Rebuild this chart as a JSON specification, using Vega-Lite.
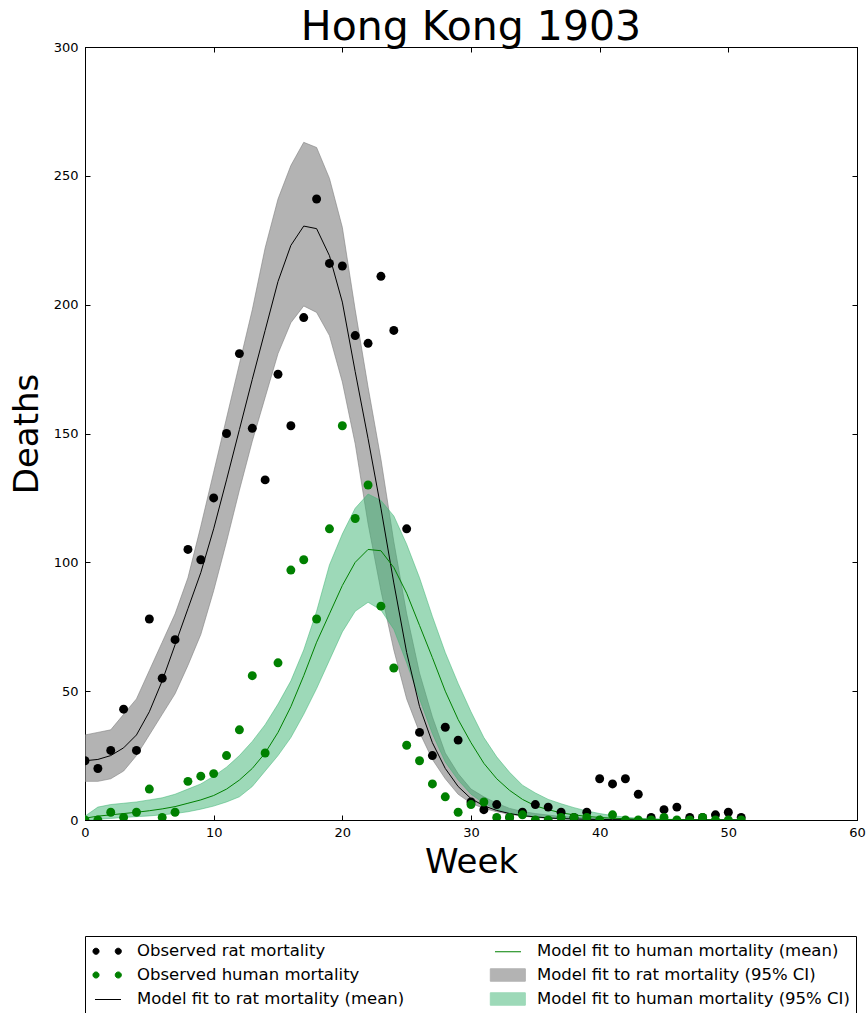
{
  "$schema": "https://vega.github.io/schema/vega-lite/v6.json",
  "width": 772,
  "height": 773,
  "autosize": {"type": "none"},
  "padding": {"left": 85, "top": 47, "right": 11, "bottom": 193},
  "title": {"text": "Hong Kong 1903", "fontSize": 41, "font": "DejaVu Sans", "fontWeight": "normal", "color": "black", "anchor": "middle", "baseline": "alphabetic", "offset": -40},
  "config": {
    "font": "DejaVu Sans",
    "view": {"stroke": "black", "strokeWidth": 1},
    "axis": {"domainColor": "black", "tickColor": "black", "labelColor": "black", "labelFont": "DejaVu Sans", "labelFontSize": 13, "titleFont": "DejaVu Sans", "titleFontSize": 34, "titleFontWeight": "normal", "titleColor": "black", "grid": false, "tickSize": -5, "labelFlush": false, "labelOverlap": false}
  },
  "datasets": {
    "obs": [{"week":0,"rat":23,"human":0},{"week":1,"rat":20,"human":0},{"week":2,"rat":27,"human":3},{"week":3,"rat":43,"human":1},{"week":4,"rat":27,"human":3},{"week":5,"rat":78,"human":12},{"week":6,"rat":55,"human":1},{"week":7,"rat":70,"human":3},{"week":8,"rat":105,"human":15},{"week":9,"rat":101,"human":17},{"week":10,"rat":125,"human":18},{"week":11,"rat":150,"human":25},{"week":12,"rat":181,"human":35},{"week":13,"rat":152,"human":56},{"week":14,"rat":132,"human":26},{"week":15,"rat":173,"human":61},{"week":16,"rat":153,"human":97},{"week":17,"rat":195,"human":101},{"week":18,"rat":241,"human":78},{"week":19,"rat":216,"human":113},{"week":20,"rat":215,"human":153},{"week":21,"rat":188,"human":117},{"week":22,"rat":185,"human":130},{"week":23,"rat":211,"human":83},{"week":24,"rat":190,"human":59},{"week":25,"rat":113,"human":29},{"week":26,"rat":34,"human":23},{"week":27,"rat":25,"human":14},{"week":28,"rat":36,"human":9},{"week":29,"rat":31,"human":3},{"week":30,"rat":7,"human":6},{"week":31,"rat":4,"human":7},{"week":32,"rat":6,"human":1},{"week":33,"rat":1,"human":1},{"week":34,"rat":3,"human":2},{"week":35,"rat":6,"human":0},{"week":36,"rat":5,"human":0},{"week":37,"rat":3,"human":1},{"week":38,"rat":1,"human":1},{"week":39,"rat":3,"human":1},{"week":40,"rat":16,"human":0},{"week":41,"rat":14,"human":2},{"week":42,"rat":16,"human":0},{"week":43,"rat":10,"human":0},{"week":44,"rat":1,"human":0},{"week":45,"rat":4,"human":1},{"week":46,"rat":5,"human":0},{"week":47,"rat":1,"human":0},{"week":48,"rat":1,"human":1},{"week":49,"rat":2,"human":0},{"week":50,"rat":3,"human":0},{"week":51,"rat":1,"human":0}],
    "model": [
      {"week":0,"rm":23,"rl":15,"ru":33,"hm":0.7,"hl":0,"hu":1.5},
      {"week":1,"rm":23.5,"rl":15,"ru":34,"hm":1.5,"hl":0.3,"hu":5},
      {"week":2,"rm":25,"rl":16,"ru":35,"hm":2,"hl":0.6,"hu":6},
      {"week":3,"rm":28,"rl":19,"ru":41,"hm":2.5,"hl":1,"hu":6.5},
      {"week":4,"rm":33,"rl":25,"ru":47,"hm":3,"hl":1.3,"hu":7},
      {"week":5,"rm":42,"rl":33,"ru":58,"hm":3.6,"hl":1.6,"hu":7.8},
      {"week":6,"rm":54,"rl":41,"ru":69,"hm":4.3,"hl":2,"hu":8.6},
      {"week":7,"rm":68,"rl":49,"ru":80,"hm":5.2,"hl":2.5,"hu":10},
      {"week":8,"rm":82,"rl":60,"ru":94,"hm":6.5,"hl":3.2,"hu":12},
      {"week":9,"rm":96,"rl":72,"ru":114,"hm":7.8,"hl":4.2,"hu":14},
      {"week":10,"rm":113,"rl":89,"ru":135,"hm":9.5,"hl":5.4,"hu":17},
      {"week":11,"rm":132,"rl":108,"ru":156,"hm":12,"hl":7,"hu":20.5},
      {"week":12,"rm":151.5,"rl":128,"ru":177,"hm":15.5,"hl":9,"hu":25},
      {"week":13,"rm":171,"rl":147,"ru":198,"hm":20,"hl":13,"hu":30.5},
      {"week":14,"rm":190,"rl":164,"ru":222,"hm":26,"hl":19,"hu":37},
      {"week":15,"rm":209,"rl":181,"ru":241,"hm":34,"hl":25,"hu":45},
      {"week":16,"rm":223,"rl":193,"ru":254,"hm":44,"hl":32,"hu":54},
      {"week":17,"rm":230.5,"rl":199.5,"ru":263,"hm":56,"hl":41,"hu":66},
      {"week":18,"rm":229.5,"rl":197,"ru":261,"hm":69,"hl":51,"hu":81},
      {"week":19,"rm":219,"rl":188,"ru":249,"hm":80,"hl":62,"hu":99},
      {"week":20,"rm":201,"rl":170,"ru":230,"hm":91,"hl":73,"hu":111},
      {"week":21,"rm":174,"rl":146,"ru":198,"hm":100,"hl":81,"hu":121},
      {"week":22,"rm":148,"rl":115,"ru":168,"hm":105,"hl":84.5,"hu":126.5},
      {"week":23,"rm":121,"rl":89,"ru":140,"hm":104.5,"hl":81.5,"hu":124},
      {"week":24,"rm":92,"rl":66,"ru":108,"hm":98,"hl":74,"hu":118},
      {"week":25,"rm":65,"rl":47,"ru":80,"hm":88,"hl":61,"hu":107},
      {"week":26,"rm":44,"rl":34,"ru":57,"hm":75.5,"hl":47,"hu":94},
      {"week":27,"rm":30,"rl":23.5,"ru":40,"hm":63,"hl":33.5,"hu":79},
      {"week":28,"rm":20,"rl":16,"ru":26,"hm":50,"hl":22.5,"hu":65},
      {"week":29,"rm":13,"rl":10,"ru":18,"hm":39,"hl":15.5,"hu":53},
      {"week":30,"rm":8.3,"rl":6.5,"ru":12,"hm":30,"hl":10,"hu":42},
      {"week":31,"rm":5.5,"rl":4.5,"ru":9,"hm":22,"hl":6.5,"hu":32},
      {"week":32,"rm":3.7,"rl":3.2,"ru":6.5,"hm":16,"hl":4,"hu":24.5},
      {"week":33,"rm":2.5,"rl":2.2,"ru":4.5,"hm":11.5,"hl":2.7,"hu":18.5},
      {"week":34,"rm":1.7,"rl":1.5,"ru":3.3,"hm":8,"hl":1.8,"hu":13.5},
      {"week":35,"rm":1.2,"rl":1,"ru":2.5,"hm":5.5,"hl":1.2,"hu":10.5},
      {"week":36,"rm":0.8,"rl":0.6,"ru":1.9,"hm":4,"hl":0.8,"hu":8},
      {"week":37,"rm":0.55,"rl":0.4,"ru":1.4,"hm":2.8,"hl":0.5,"hu":6.3},
      {"week":38,"rm":0.4,"rl":0.25,"ru":1.1,"hm":2,"hl":0.3,"hu":4.8},
      {"week":39,"rm":0.3,"rl":0.15,"ru":0.85,"hm":1.4,"hl":0.2,"hu":3.5},
      {"week":40,"rm":0.2,"rl":0.1,"ru":0.65,"hm":1,"hl":0.1,"hu":2.5},
      {"week":41,"rm":0.15,"rl":0.05,"ru":0.5,"hm":0.7,"hl":0.05,"hu":1.7},
      {"week":42,"rm":0.1,"rl":0.03,"ru":0.4,"hm":0.5,"hl":0.03,"hu":1.1},
      {"week":43,"rm":0.07,"rl":0.02,"ru":0.3,"hm":0.35,"hl":0.02,"hu":0.7},
      {"week":44,"rm":0.05,"rl":0.01,"ru":0.25,"hm":0.25,"hl":0.01,"hu":0.5},
      {"week":45,"rm":0.04,"rl":0,"ru":0.2,"hm":0.18,"hl":0,"hu":0.35},
      {"week":46,"rm":0.03,"rl":0,"ru":0.15,"hm":0.12,"hl":0,"hu":0.25},
      {"week":47,"rm":0.02,"rl":0,"ru":0.12,"hm":0.08,"hl":0,"hu":0.2},
      {"week":48,"rm":0.015,"rl":0,"ru":0.1,"hm":0.06,"hl":0,"hu":0.15},
      {"week":49,"rm":0.01,"rl":0,"ru":0.08,"hm":0.04,"hl":0,"hu":0.1},
      {"week":50,"rm":0.01,"rl":0,"ru":0.06,"hm":0.03,"hl":0,"hu":0.08},
      {"week":51,"rm":0.01,"rl":0,"ru":0.05,"hm":0.02,"hl":0,"hu":0.06}
    ]
  },
  "resolve": {"axis": {"x": "independent", "y": "independent"}},
  "layer": [
    {
      "data": {"name": "model"},
      "mark": {"type": "area", "fill": "#808080", "fillOpacity": 0.6, "stroke": "#808080", "strokeOpacity": 0.6, "strokeWidth": 1, "clip": true},
      "encoding": {
        "x": {"field": "week", "type": "quantitative", "scale": {"domain": [0, 60], "nice": false}, "axis": {"orient": "bottom", "values": [0,10,20,30,40,50,60], "format": "d", "title": "Week", "labelPadding": 11, "titlePadding": 6}},
        "y": {"field": "rl", "type": "quantitative", "scale": {"domain": [0, 300], "nice": false}, "axis": {"orient": "left", "values": [0,50,100,150,200,250,300], "format": "d", "title": "Deaths", "labelPadding": 12, "titlePadding": 9}},
        "y2": {"field": "ru"}
      }
    },
    {
      "data": {"name": "model"},
      "mark": {"type": "area", "fill": "#3cb371", "fillOpacity": 0.5, "stroke": "#3cb371", "strokeOpacity": 0.5, "strokeWidth": 1, "clip": true},
      "encoding": {
        "x": {"field": "week", "type": "quantitative", "axis": {"orient": "top", "values": [0,10,20,30,40,50,60], "labels": false, "title": null}},
        "y": {"field": "hl", "type": "quantitative", "axis": {"orient": "right", "values": [0,50,100,150,200,250,300], "labels": false, "title": null}},
        "y2": {"field": "hu"}
      }
    },
    {
      "data": {"name": "model"},
      "mark": {"type": "line", "strokeWidth": 1, "clip": true},
      "encoding": {
        "x": {"field": "week", "type": "quantitative", "axis": null},
        "y": {"field": "rm", "type": "quantitative", "axis": null},
        "color": {
          "datum": "Model fit to rat mortality (mean)",
          "type": "nominal",
          "scale": {
            "domain": ["Observed rat mortality", "Observed human mortality", "Model fit to rat mortality (mean)", "Model fit to human mortality (mean)", "Model fit to rat mortality (95% CI)", "Model fit to human mortality (95% CI)"],
            "range": ["#000000", "#008000", "#000000", "#008000", "#b3b3b3", "#9dd9b8"]
          },
          "legend": {
            "orient": "none", "legendX": 0, "legendY": 889, "direction": "vertical", "columns": 2, "title": null,
            "symbolSize": 289, "symbolStrokeWidth": 1, "labelFontSize": 16.5, "labelFont": "DejaVu Sans", "labelColor": "black", "labelOffset": 28, "labelLimit": 500,
            "rowPadding": 6, "columnPadding": 83, "padding": 6, "strokeColor": "black", "fillColor": "white", "cornerRadius": 0
          }
        }
      }
    },
    {
      "data": {"name": "model"},
      "mark": {"type": "line", "strokeWidth": 1, "clip": true},
      "encoding": {
        "x": {"field": "week", "type": "quantitative", "axis": null},
        "y": {"field": "hm", "type": "quantitative", "axis": null},
        "color": {"datum": "Model fit to human mortality (mean)", "type": "nominal"}
      }
    },
    {
      "data": {"name": "obs"},
      "mark": {"type": "point", "filled": true, "size": 80, "opacity": 1, "clip": true},
      "encoding": {
        "x": {"field": "week", "type": "quantitative", "axis": null},
        "y": {"field": "rat", "type": "quantitative", "axis": null},
        "color": {"datum": "Observed rat mortality", "type": "nominal"}
      }
    },
    {
      "data": {"name": "obs"},
      "mark": {"type": "point", "filled": true, "size": 80, "opacity": 1, "clip": true},
      "encoding": {
        "x": {"field": "week", "type": "quantitative", "axis": null},
        "y": {"field": "human", "type": "quantitative", "axis": null},
        "color": {"datum": "Observed human mortality", "type": "nominal"}
      }
    },
    {
      "data": {"name": "obs"},
      "transform": [{"filter": "datum.week < 0"}],
      "mark": {"type": "point", "filled": true},
      "encoding": {
        "x": {"field": "week", "type": "quantitative", "axis": null},
        "y": {"field": "rat", "type": "quantitative", "axis": null},
        "shape": {
          "datum": "Observed rat mortality", "type": "nominal",
          "scale": {
            "domain": ["Observed rat mortality", "Observed human mortality", "Model fit to rat mortality (mean)", "Model fit to human mortality (mean)", "Model fit to rat mortality (95% CI)", "Model fit to human mortality (95% CI)"],
            "range": [
              "M-0.83,0a0.36,0.36 0 1,0 0.72,0a0.36,0.36 0 1,0 -0.72,0ZM1.79,0a0.36,0.36 0 1,0 0.72,0a0.36,0.36 0 1,0 -0.72,0Z",
              "M-0.83,0a0.36,0.36 0 1,0 0.72,0a0.36,0.36 0 1,0 -0.72,0ZM1.79,0a0.36,0.36 0 1,0 0.72,0a0.36,0.36 0 1,0 -0.72,0Z",
              "M-0.59,0.06L2.47,0.06",
              "M-0.59,0.06L2.47,0.06",
              "M-1.14,-0.73L2.98,-0.73L2.98,0.73L-1.14,0.73Z",
              "M-1.14,-0.73L2.98,-0.73L2.98,0.73L-1.14,0.73Z"
            ]
          }
        }
      }
    }
  ]
}
